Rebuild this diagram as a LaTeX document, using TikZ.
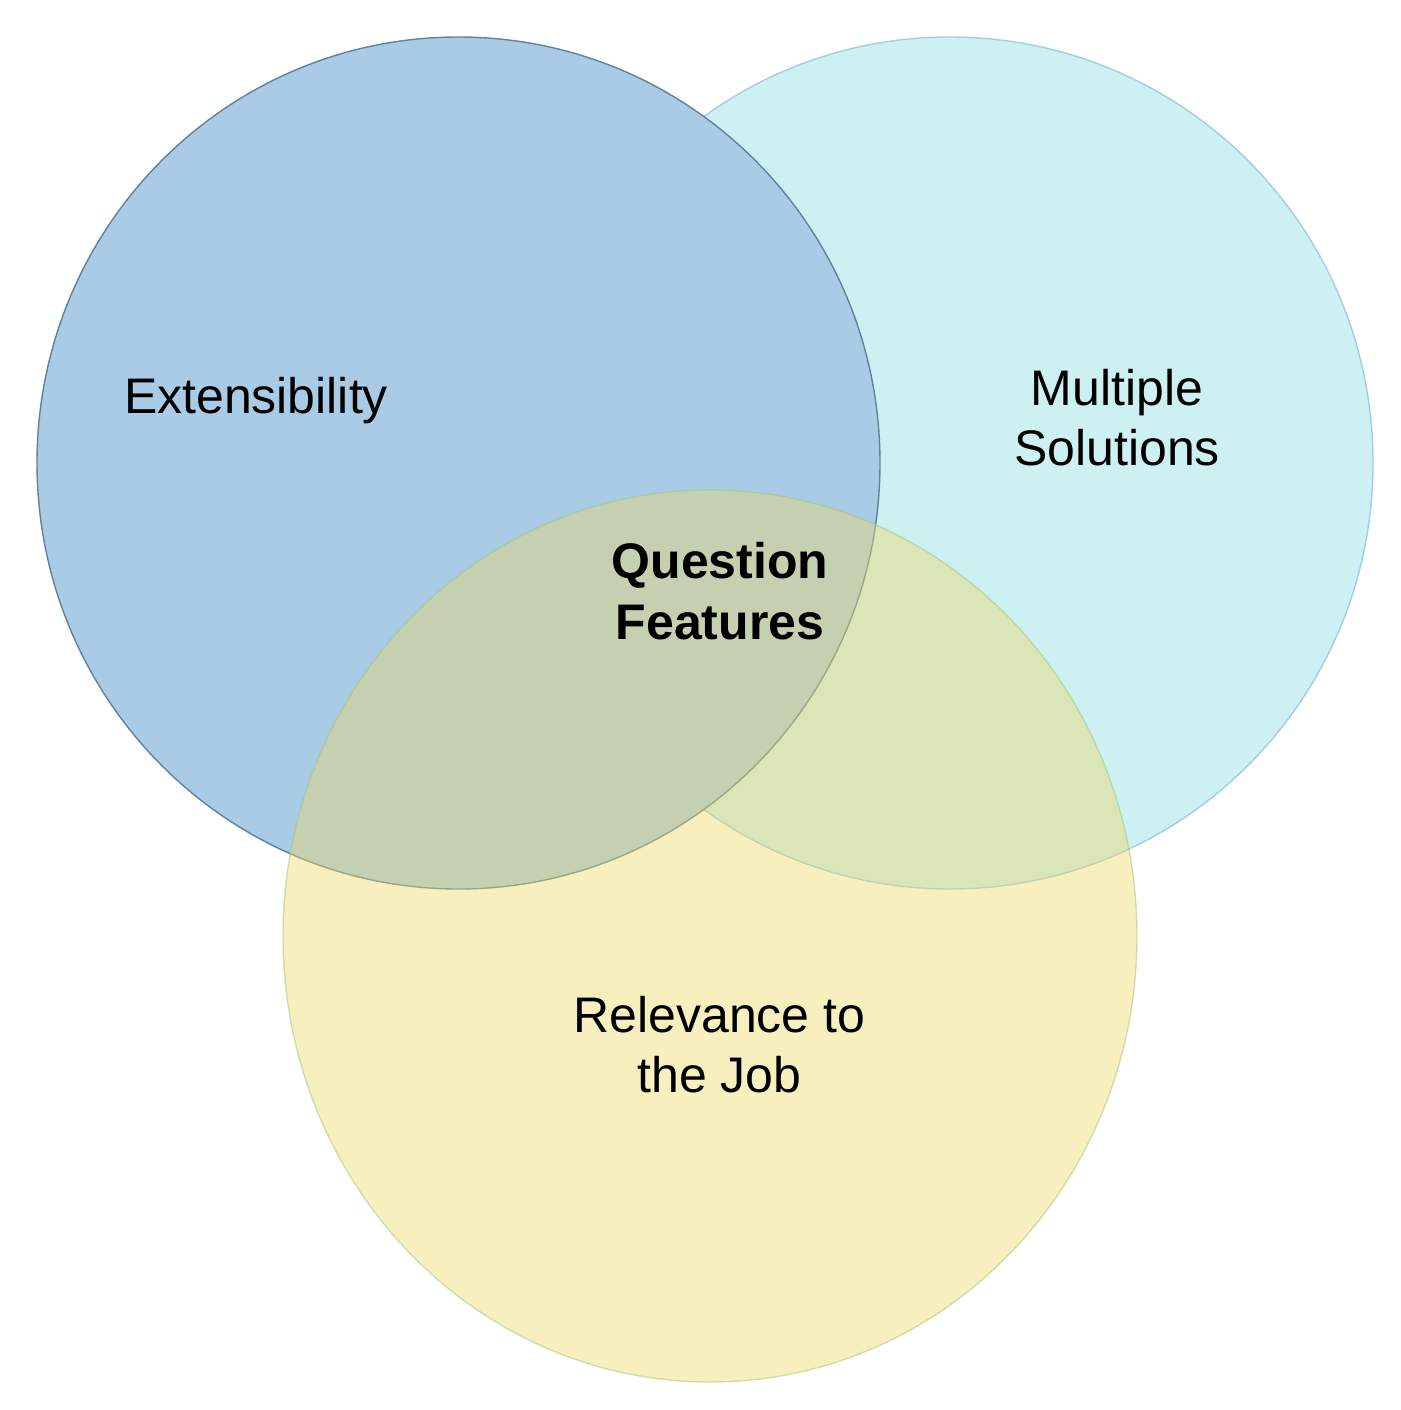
\documentclass[tikz,border=0pt]{standalone}
\usepackage{fontspec}
\setmainfont{Liberation Sans}
\definecolor{bluefill}{RGB}{169,203,230}
\definecolor{blueedge}{RGB}{94,130,160}
\definecolor{cyanfill}{RGB}{205,240,242}
\definecolor{cyanedge}{RGB}{166,203,233}
\definecolor{yellowfill}{RGB}{238,217,102}
\definecolor{yellowedge}{RGB}{160,200,120}
\tikzset{
  setblob/.style={line width=1.4pt},
  label/.style={font=\fontsize{50}{60}\selectfont, align=center, inner sep=0pt, text=black},
}
\begin{document}
\begin{tikzpicture}[x=1pt,y=-1pt]
\useasboundingbox (0,0) rectangle (1400,1410);
\fill[white] (0,0) rectangle (1400,1410);
\draw[setblob, fill=cyanfill, draw=cyanedge] (950,463) ellipse [x radius=423, y radius=426];
\draw[setblob, fill=bluefill, draw=blueedge] (458.5,463) ellipse [x radius=421.5, y radius=426];
\draw[setblob, fill=yellowfill, fill opacity=0.42, draw=yellowedge, draw opacity=0.5] (710,936) ellipse [x radius=427, y radius=446];
\node[label, anchor=base] (ext) at (256,413) {Extensibility};
\node[label, anchor=base] (multi) at (1117,465) {Multiple\\Solutions};
\node[label, anchor=base, font=\fontsize{50}{61}\selectfont\bfseries] (qf) at (720,639) {Question\\Features};
\node[label, anchor=base] (rel) at (719.5,1092) {Relevance to\\the Job};
\end{tikzpicture}
\end{document}
